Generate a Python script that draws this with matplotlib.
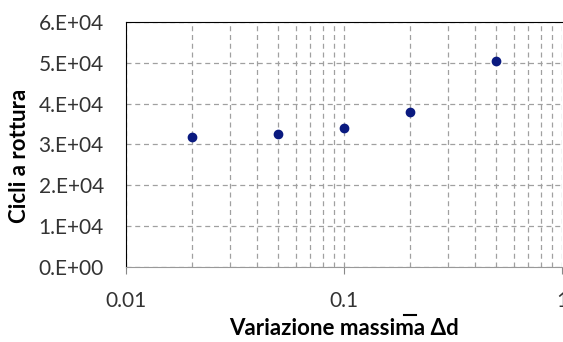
import numpy as np
from matplotlib import pyplot as plt
from matplotlib.lines import Line2D
from matplotlib.ticker import LogLocator, NullFormatter

plt.rcParams['font.family'] = ['Lato', 'DejaVu Sans']

variazione = [0.02, 0.05, 0.1, 0.2, 0.5]
cicli = [31800, 32500, 34000, 38000, 50500]
yticks = [0, 10000, 20000, 30000, 40000, 50000, 60000]
ylabels = ['0.E+00', '1.E+04', '2.E+04', '3.E+04', '4.E+04', '5.E+04', '6.E+04']
xticks = [0.01, 0.1, 1]
xlabels = ['0.01', '0.1', '1']

fig = plt.figure(figsize=(5.63, 3.42), dpi=100)
ax = fig.add_axes([0.224, 0.219, 0.774, 0.717])

ax.plot(variazione, cicli, 'o', color='#0a1a80', markersize=6, zorder=3)

ax.set_xscale('log')
ax.set_xlim(0.01, 1)
ax.set_ylim(0, 60000)
ax.set_xticks(xticks)
ax.set_xticklabels(xlabels, fontsize=15, color='#333333')
ax.xaxis.set_minor_locator(LogLocator(base=10, subs=np.arange(2, 10)))
ax.xaxis.set_minor_formatter(NullFormatter())
ax.set_yticks(yticks)
ax.set_yticklabels(ylabels, fontsize=15, color='#333333')

ax.grid(True, which='major', axis='both', linestyle=(0, (4, 3)), color='#a0a0a0', linewidth=0.9)
ax.grid(True, which='minor', axis='x', linestyle=(0, (4, 3)), color='#a0a0a0', linewidth=0.9)
ax.tick_params(axis='y', length=0, pad=16)
ax.tick_params(axis='x', which='major', length=5, color='#888888', pad=12)
ax.tick_params(axis='x', which='minor', length=0)

ax.spines['top'].set_color('black')
ax.spines['left'].set_color('black')
ax.spines['bottom'].set_color('#999999')
ax.spines['right'].set_visible(False)

ax.set_xlabel('Variazione massima Δd', fontsize=16, fontweight='bold', labelpad=5)
ax.set_ylabel('Cicli a rottura', fontsize=16, fontweight='bold')
ax.yaxis.set_label_coords(-0.22, 0.453)
# stray overline above "ma" in the original
fig.add_artist(Line2D([0.718, 0.739], [0.079, 0.079], color='black', linewidth=1.5))

fig.savefig('out.png', dpi=100)
